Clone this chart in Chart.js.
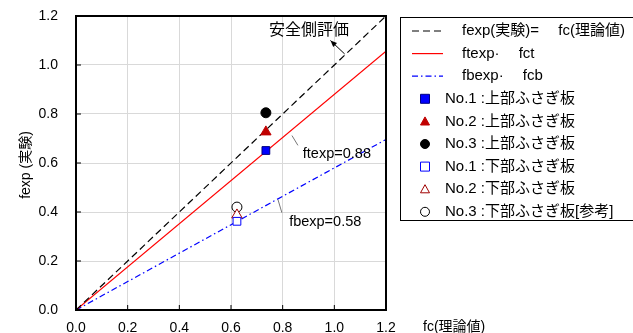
<!DOCTYPE html>
<html>
<head>
<meta charset="utf-8">
<script src="https://cdn.jsdelivr.net/npm/chart.js@4"></script>
<style>
  html, body { margin: 0; padding: 0; background: #fff; overflow: hidden; }
  #wrap { width: 633px; height: 333px; position: relative; }
  canvas { display: block; }
</style>
</head>
<body>
<div id="wrap"><canvas id="c" width="633" height="333"></canvas></div>
<script>
// 軸目盛
const xTicks = [0, 0.2, 0.4, 0.6, 0.8, 1.0, 1.2];
const yTicks = [0, 0.2, 0.4, 0.6, 0.8, 1.0, 1.2];

// 基準線 (始点・終点)
const lineEqual = [{x: 0, y: 0}, {x: 1.2, y: 1.2}];
const lineTop = [{x: 0, y: 0}, {x: 1.2, y: 1.056}];
const lineBottom = [{x: 0, y: 0}, {x: 1.2, y: 0.696}];

// 実験値 (fc, fexp)
const upperNo1 = [{x: 0.735, y: 0.651}];
const upperNo2 = [{x: 0.735, y: 0.727}];
const upperNo3 = [{x: 0.735, y: 0.805}];
const lowerNo1 = [{x: 0.623, y: 0.362}];
const lowerNo2 = [{x: 0.623, y: 0.388}];
const lowerNo3 = [{x: 0.623, y: 0.42}];

const legendLabels = [
  'fexp(実験)=　 fc(理論値)',
  'ftexp·　 fct',
  'fbexp·　 fcb',
  'No.1 :上部ふさぎ板',
  'No.2 :上部ふさぎ板',
  'No.3 :上部ふさぎ板',
  'No.1 :下部ふさぎ板',
  'No.2 :下部ふさぎ板',
  'No.3 :下部ふさぎ板[参考]'
];

const FONT = '"Liberation Sans", "Noto Sans CJK JP", sans-serif';

function lineDs(data, color, dash, label) {
  return { type: 'line', label: label, data: data, borderColor: color, borderWidth: 1.2,
    borderDash: dash, pointRadius: 0, fill: false, showLine: true, order: 2 };
}
function ptDs(data, style, fill, border, r, label) {
  return { type: 'scatter', label: label, data: data, pointStyle: style, pointRadius: r,
    backgroundColor: fill, borderColor: border, borderWidth: 1, order: 1 };
}

const datasets = [
  lineDs(lineEqual, '#000', [7, 4], legendLabels[0]),
  lineDs(lineTop, '#ff0000', [], legendLabels[1]),
  lineDs(lineBottom, '#0000ff', [6, 3, 1.5, 3], legendLabels[2]),
  ptDs(upperNo1, 'rect', '#0000ff', '#000080', 5.5, legendLabels[3]),
  ptDs(upperNo2, 'triangle', '#c00000', '#c00000', 6, legendLabels[4]),
  ptDs(upperNo3, 'circle', '#000', '#000', 5, legendLabels[5]),
  ptDs(lowerNo1, 'rect', '#fff', '#0000ff', 5.5, legendLabels[6]),
  ptDs(lowerNo2, 'triangle', '#fff', '#a00000', 6, legendLabels[7]),
  ptDs(lowerNo3, 'circle', '#fff', '#000', 5, legendLabels[8])
];

// 軸枠・内向き目盛・注記・凡例
const decorations = {
  id: 'decorations',
  afterDraw(chart) {
    const ctx = chart.ctx;
    const xs = chart.scales.x, ys = chart.scales.y;
    const a = chart.chartArea;
    ctx.save();
    // 内向き目盛
    ctx.strokeStyle = '#000';
    ctx.lineWidth = 1;
    ctx.beginPath();
    xTicks.forEach(v => { const px = xs.getPixelForValue(v); ctx.moveTo(px, a.bottom); ctx.lineTo(px, a.bottom - 5); });
    yTicks.forEach(v => { const py = ys.getPixelForValue(v); ctx.moveTo(a.left, py); ctx.lineTo(a.left + 5, py); });
    ctx.stroke();
    // 枠
    ctx.lineWidth = 2;
    ctx.strokeRect(a.left, a.top, a.right - a.left, a.bottom - a.top);

    // 注記
    ctx.fillStyle = '#000';
    ctx.font = '16px ' + FONT;
    ctx.textBaseline = 'middle';
    ctx.textAlign = 'left';
    ctx.fillText('安全側評価', xs.getPixelForValue(0.747), ys.getPixelForValue(1.14));
    // 矢印
    const ax1 = xs.getPixelForValue(1.04), ay1 = ys.getPixelForValue(1.045);
    const ax2 = xs.getPixelForValue(0.985), ay2 = ys.getPixelForValue(1.1);
    ctx.lineWidth = 1;
    ctx.beginPath(); ctx.moveTo(ax1, ay1); ctx.lineTo(ax2, ay2); ctx.stroke();
    const ang = Math.atan2(ay2 - ay1, ax2 - ax1);
    ctx.beginPath();
    ctx.moveTo(ax2, ay2);
    ctx.lineTo(ax2 - 7 * Math.cos(ang - 0.4), ay2 - 7 * Math.sin(ang - 0.4));
    ctx.lineTo(ax2 - 7 * Math.cos(ang + 0.4), ay2 - 7 * Math.sin(ang + 0.4));
    ctx.closePath(); ctx.fill();

    ctx.font = '14.5px ' + FONT;
    ctx.fillText('ftexp=0.88', xs.getPixelForValue(0.878), ys.getPixelForValue(0.638));
    ctx.fillText('fbexp=0.58', xs.getPixelForValue(0.825), ys.getPixelForValue(0.36));
    ctx.strokeStyle = '#777';
    ctx.beginPath();
    ctx.moveTo(xs.getPixelForValue(0.836), ys.getPixelForValue(0.712));
    ctx.lineTo(xs.getPixelForValue(0.859), ys.getPixelForValue(0.672));
    ctx.moveTo(xs.getPixelForValue(0.782), ys.getPixelForValue(0.45));
    ctx.lineTo(xs.getPixelForValue(0.797), ys.getPixelForValue(0.397));
    ctx.stroke();

    // 軸タイトル
    ctx.fillStyle = '#000';
    ctx.font = '14px ' + FONT;
    ctx.textBaseline = 'top';
    ctx.fillText('fc(理論値)', 423, 320);
    ctx.textBaseline = 'middle';
    ctx.save();
    ctx.translate(26, 165);
    ctx.rotate(-Math.PI / 2);
    ctx.textAlign = 'center';
    ctx.fillText('fexp (実験)', 0, 0);
    ctx.restore();

    // 凡例
    const lx = 400, ly = 17, lw = 245, lh = 203;
    ctx.fillStyle = '#fff';
    ctx.fillRect(lx, ly, lw, lh);
    ctx.strokeStyle = '#000';
    ctx.lineWidth = 1;
    ctx.strokeRect(lx + 0.5, ly + 0.5, lw, lh);
    chart.data.datasets.forEach((ds, i) => {
      const y = 31 + i * 22.6;
      ctx.font = '15px ' + FONT;
      if (ds.type === 'line') {
        ctx.strokeStyle = ds.borderColor;
        ctx.lineWidth = 1.2;
        ctx.setLineDash(ds.borderDash || []);
        ctx.beginPath(); ctx.moveTo(412, y); ctx.lineTo(443, y); ctx.stroke();
        ctx.setLineDash([]);
        ctx.fillStyle = '#000';
        ctx.fillText(ds.label, 462, y);
      } else {
        ctx.fillStyle = ds.backgroundColor;
        ctx.strokeStyle = ds.borderColor;
        ctx.lineWidth = 1;
        const r = 4.5;
        ctx.beginPath();
        if (ds.pointStyle === 'rect') {
          ctx.rect(425 - r, y - r, r * 2, r * 2);
        } else if (ds.pointStyle === 'triangle') {
          ctx.moveTo(425, y - r); ctx.lineTo(425 + r, y + r * 0.8); ctx.lineTo(425 - r, y + r * 0.8); ctx.closePath();
        } else {
          ctx.arc(425, y, r, 0, Math.PI * 2);
        }
        ctx.fill(); ctx.stroke();
        ctx.fillStyle = '#000';
        ctx.fillText(ds.label, 445, y);
      }
    });
    ctx.restore();
  }
};

new Chart(document.getElementById('c'), {
  type: 'scatter',
  data: { datasets: datasets },
  options: {
    responsive: false,
    animation: false,
    layout: { padding: { left: 0, top: 16, right: 247, bottom: 0 } },
    plugins: { legend: { display: false }, tooltip: { enabled: false } },
    scales: {
      x: {
        type: 'linear', min: 0, max: 1.2,
        afterBuildTicks: s => { s.ticks = xTicks.map(v => ({ value: v })); },
        afterFit: s => { s.height = 23; s.paddingLeft = 0; s.paddingRight = 0; },
        grid: { color: '#d9d9d9', drawTicks: false },
        border: { display: false },
        ticks: { color: '#000', padding: 10, font: { size: 14, family: FONT }, callback: v => v.toFixed(1) }
      },
      y: {
        type: 'linear', min: 0, max: 1.2,
        afterBuildTicks: s => { s.ticks = yTicks.map(v => ({ value: v })); },
        afterFit: s => { s.width = 76; s.paddingTop = 0; s.paddingBottom = 0; },
        grid: { color: '#d9d9d9', drawTicks: false },
        border: { display: false },
        ticks: { color: '#000', padding: 18, font: { size: 14, family: FONT }, callback: v => v.toFixed(1) }
      }
    }
  },
  plugins: [decorations]
});
</script>
</body>
</html>
